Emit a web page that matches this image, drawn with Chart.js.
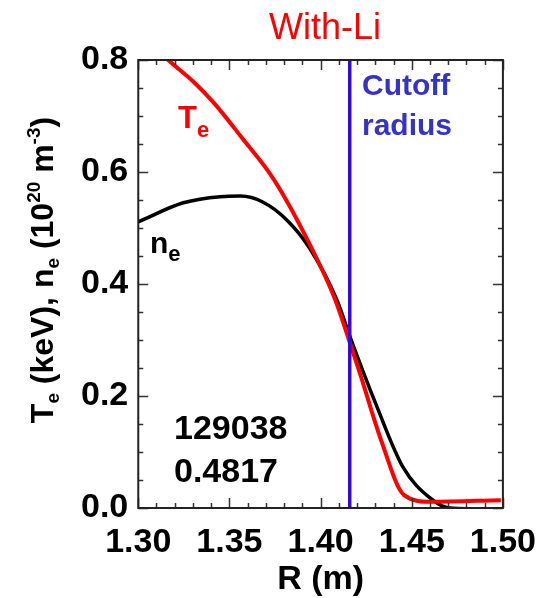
<!DOCTYPE html>
<html>
<head>
<meta charset="utf-8">
<script src="https://cdn.jsdelivr.net/npm/chart.js@4.4.1/dist/chart.umd.min.js"></script>
<style>
  html, body { margin: 0; padding: 0; background: #fff; }
  #wrap { width: 538px; height: 598px; }
</style>
</head>
<body>
<div id="wrap"><canvas id="profile"></canvas></div>
<script>
// Te profile (keV) against major radius R (m)
const rTe = [1.300, 1.3164, 1.3300, 1.3416, 1.3564, 1.3745, 1.3948, 1.4074, 1.4156, 1.4222, 1.4332, 1.4458, 1.4605, 1.4989];
const te  = [0.850, 0.800, 0.762, 0.723, 0.663, 0.586, 0.466, 0.377, 0.300, 0.234, 0.121, 0.023, 0.011, 0.014];

// ne profile (1e20 m^-3)
const rNe = [1.300, 1.3247, 1.3450, 1.3560, 1.3685, 1.3816, 1.3942, 1.4090, 1.4162, 1.4310, 1.4452, 1.4600, 1.4710, 1.4989];
const ne  = [0.511, 0.545, 0.556, 0.557, 0.546, 0.514, 0.463, 0.371, 0.305, 0.180, 0.073, 0.018, 0.000, -0.002];

const cutoffR = 1.416;
const xTicks = [1.30, 1.35, 1.40, 1.45, 1.50];
const yTicks = [0.0, 0.2, 0.4, 0.6, 0.8];

const FONT = '"Liberation Sans", Arial, Helvetica, sans-serif';

function pairs(xs, ys) {
    return xs.map((x, i) => ({ x: x, y: ys[i] }));
}

// draws a run of text pieces; each piece may be shifted up/down and sized
function drawRich(ctx, parts, x, y, align) {
    let total = 0;
    parts.forEach(p => {
        ctx.font = `${p.weight || 'bold'} ${p.size}px ${FONT}`;
        p.w = ctx.measureText(p.t).width;
        total += p.w;
    });
    let cx = align === 'center' ? x - total / 2 : x;
    ctx.textAlign = 'left';
    ctx.textBaseline = 'alphabetic';
    parts.forEach(p => {
        ctx.font = `${p.weight || 'bold'} ${p.size}px ${FONT}`;
        ctx.fillText(p.t, cx, y + (p.dy || 0));
        cx += p.w;
    });
}

// frame, inward ticks and the free text
const decorations = {
    id: 'decorations',
    afterDraw(chart) {
        const { ctx, chartArea: a, scales } = chart;
        const xs = scales.x, ys = scales.y;
        ctx.save();

        // inward ticks on all four sides
        ctx.strokeStyle = '#333';
        ctx.lineWidth = 1.5;
        ctx.beginPath();
        for (let i = 0; i <= 20; i++) {
            const v = 1.30 + i * 0.01;
            const px = Math.round(xs.getPixelForValue(v)) + 0.5;
            const len = i % 5 === 0 ? 10 : 5;
            ctx.moveTo(px, a.bottom); ctx.lineTo(px, a.bottom - len);
            ctx.moveTo(px, a.top); ctx.lineTo(px, a.top + len);
        }
        for (let i = 0; i <= 16; i++) {
            const v = i * 0.05;
            const py = Math.round(ys.getPixelForValue(v)) + 0.5;
            const len = i % 4 === 0 ? 10 : 5;
            ctx.moveTo(a.left, py); ctx.lineTo(a.left + len, py);
            ctx.moveTo(a.right, py); ctx.lineTo(a.right - len, py);
        }
        ctx.stroke();

        // plot frame
        ctx.strokeStyle = '#222';
        ctx.lineWidth = 2;
        ctx.strokeRect(a.left, a.top, a.right - a.left, a.bottom - a.top);

        // title
        ctx.fillStyle = '#ff0000';
        drawRich(ctx, [{ t: 'With-Li', size: 36, weight: 'normal' }], 325, 39, 'center');

        // curve labels
        drawRich(ctx, [{ t: 'T', size: 31 }, { t: 'e', size: 22, dy: 9 }], 178, 128);
        ctx.fillStyle = '#000';
        drawRich(ctx, [{ t: 'n', size: 30 }, { t: 'e', size: 22, dy: 8 }], 150, 253);

        // shot number and time
        drawRich(ctx, [{ t: '129038', size: 34 }], 174, 439);
        drawRich(ctx, [{ t: '0.4817', size: 34 }], 174, 482);

        // cutoff label
        ctx.fillStyle = '#3333cc';
        drawRich(ctx, [{ t: 'Cutoff', size: 30 }], 362, 95);
        drawRich(ctx, [{ t: 'radius', size: 30 }], 362, 135);

        // x axis title
        ctx.fillStyle = '#000';
        drawRich(ctx, [{ t: 'R (m)', size: 34 }], (a.left + a.right) / 2, 589, 'center');

        // rotated y axis title with sub/superscripts
        ctx.translate(53, 270);
        ctx.rotate(-Math.PI / 2);
        drawRich(ctx, [
            { t: 'T', size: 32 },
            { t: 'e', size: 19, dy: 6 },
            { t: ' (keV), n', size: 32 },
            { t: 'e', size: 19, dy: 6 },
            { t: ' (10', size: 32 },
            { t: '20', size: 19, dy: -13 },
            { t: ' m', size: 32 },
            { t: '-3', size: 19, dy: -13 },
            { t: ')', size: 32 }
        ], 0, 0, 'center');

        ctx.restore();
    }
};

new Chart(document.getElementById('profile'), {
    type: 'line',
    data: {
        datasets: [
            {
                label: 'Cutoff radius',
                data: [{ x: cutoffR, y: 0 }, { x: cutoffR, y: 0.8 }],
                borderColor: '#3408d8',
                borderWidth: 3.5,
                pointRadius: 0,
                order: 0
            },
            {
                label: 'Te',
                data: pairs(rTe, te),
                borderColor: '#ff0000',
                borderWidth: 4,
                pointRadius: 0,
                cubicInterpolationMode: 'monotone',
                order: 1
            },
            {
                label: 'ne',
                data: pairs(rNe, ne),
                borderColor: '#000',
                borderWidth: 3.5,
                pointRadius: 0,
                cubicInterpolationMode: 'monotone',
                order: 2
            }
        ]
    },
    options: {
        responsive: true,
        maintainAspectRatio: false,
        animation: false,
        layout: { padding: { top: 60, right: 22, left: 71, bottom: 36 } },
        plugins: { legend: { display: false }, tooltip: { enabled: false } },
        scales: {
            x: {
                type: 'linear',
                min: 1.30,
                max: 1.50,
                afterBuildTicks: s => { s.ticks = xTicks.map(v => ({ value: v })); },
                // invisible tick marks only hold the labels off the axis
                grid: { display: true, drawOnChartArea: false, drawTicks: true, tickLength: 16, color: 'rgba(0,0,0,0)' },
                border: { display: false },
                ticks: {
                    color: '#000',
                    font: { family: FONT, size: 34, weight: 'bold', lineHeight: 1 },
                    padding: 2,
                    maxRotation: 0,
                    autoSkip: false,
                    callback: v => v.toFixed(2)
                }
            },
            y: {
                type: 'linear',
                min: 0,
                max: 0.8,
                afterBuildTicks: s => { s.ticks = yTicks.map(v => ({ value: v })); },
                grid: { display: false, drawTicks: false },
                border: { display: false },
                ticks: {
                    color: '#000',
                    font: { family: FONT, size: 34, weight: 'bold' },
                    padding: 10,
                    callback: v => v.toFixed(1)
                }
            }
        }
    },
    plugins: [decorations]
});
</script>
</body>
</html>
